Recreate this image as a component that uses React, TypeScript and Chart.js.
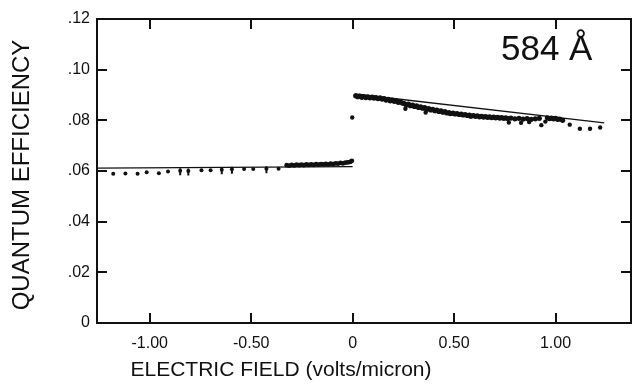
import React, { useEffect, useRef, useState } from 'react';
import { Chart, registerables } from 'chart.js';
Chart.register(...registerables);

// ---- axis ticks ----
const xTicks = [-1, -0.5, 0, 0.5, 1];
const xTickLabels = ['-1.00', '-0.50', '0', '0.50', '1.00'];
const yTicks = [0, 0.02, 0.04, 0.06, 0.08, 0.1, 0.12];
const yTickLabels = ['0', '.02', '.04', '.06', '.08', '.10', '.12'];

// ---- negative field, sparse points ----
const leftSparseX = [-1.18, -1.12, -1.06, -1.015, -0.955, -0.91, -0.85, -0.81, -0.745, -0.70, -0.645, -0.595, -0.535, -0.49, -0.425, -0.365];
const leftSparseY = [0.0589, 0.0590, 0.0589, 0.0595, 0.0591, 0.0598, 0.0601, 0.0600, 0.0603, 0.0603, 0.0605, 0.0607, 0.0608, 0.0608, 0.0609, 0.0609];

// ---- negative field, dense points ----
const leftDenseX = [-0.325, -0.313, -0.300, -0.288, -0.276, -0.264, -0.252, -0.240, -0.228, -0.216, -0.204, -0.192, -0.180, -0.168, -0.156, -0.144, -0.132, -0.120, -0.108, -0.096, -0.084, -0.072, -0.060, -0.048, -0.036, -0.024, -0.012, -0.004];
const leftDenseY = [0.0623, 0.0621, 0.0624, 0.0622, 0.0625, 0.0623, 0.0625, 0.0623, 0.0626, 0.0624, 0.0626, 0.0624, 0.0627, 0.0625, 0.0627, 0.0626, 0.0628, 0.0626, 0.0629, 0.0627, 0.0630, 0.0629, 0.0632, 0.0630, 0.0633, 0.0634, 0.0636, 0.0640];

// ---- error-bar markers on some negative-field points ----
const errX = [-0.85, -0.81, -0.645, -0.595, -0.425];
const errY = [0.0597, 0.0596, 0.0601, 0.0603, 0.0605];

// ---- positive field, dense points ----
const rightX = [0.015, 0.025, 0.035, 0.045, 0.055, 0.065, 0.075, 0.085, 0.095, 0.105, 0.115, 0.125, 0.135, 0.145, 0.155, 0.165, 0.175, 0.185, 0.195, 0.205, 0.215, 0.225, 0.235, 0.245, 0.255, 0.265, 0.275, 0.285, 0.295, 0.305, 0.315, 0.325, 0.335, 0.345, 0.355, 0.365, 0.375, 0.385, 0.395, 0.405, 0.415, 0.425, 0.435, 0.445, 0.455, 0.465, 0.475, 0.485, 0.495, 0.505, 0.515, 0.525, 0.535, 0.545, 0.555, 0.565, 0.575, 0.585, 0.595, 0.605, 0.615, 0.625, 0.635, 0.645, 0.655, 0.665, 0.675, 0.685, 0.695, 0.705, 0.715, 0.725, 0.735, 0.745, 0.755, 0.765, 0.78, 0.80, 0.82, 0.84, 0.86, 0.88, 0.90, 0.92, 0.96, 0.97, 0.98, 0.99, 1.00, 1.01, 1.02, 1.035];
const rightY = [0.0897, 0.0893, 0.0896, 0.0891, 0.0894, 0.0890, 0.0893, 0.0889, 0.0892, 0.0888, 0.0890, 0.0886, 0.0889, 0.0884, 0.0886, 0.0880, 0.0883, 0.0877, 0.0880, 0.0875, 0.0877, 0.0871, 0.0873, 0.0868, 0.0866, 0.0861, 0.0864, 0.0858, 0.0860, 0.0855, 0.0857, 0.0851, 0.0853, 0.0848, 0.0850, 0.0844, 0.0846, 0.0841, 0.0843, 0.0838, 0.0840, 0.0835, 0.0837, 0.0832, 0.0834, 0.0829, 0.0831, 0.0827, 0.0829, 0.0825, 0.0827, 0.0823, 0.0825, 0.0821, 0.0823, 0.0819, 0.0821, 0.0817, 0.0819, 0.0816, 0.0818, 0.0814, 0.0816, 0.0813, 0.0815, 0.0812, 0.0814, 0.0811, 0.0813, 0.0810, 0.0812, 0.0809, 0.0811, 0.0808, 0.0810, 0.0807, 0.0809, 0.0806, 0.0808, 0.0805, 0.0807, 0.0804, 0.0806, 0.0808, 0.0810, 0.0807, 0.0809, 0.0806, 0.0808, 0.0804, 0.0805, 0.0800];

// ---- positive field, scattered low points ----
const rightLowX = [-0.002, 0.26, 0.36, 0.48, 0.58, 0.77, 0.83, 0.87, 0.93, 0.95, 1.07, 1.12, 1.17, 1.22];
const rightLowY = [0.0811, 0.0846, 0.0831, 0.0825, 0.0815, 0.0791, 0.0790, 0.0793, 0.0781, 0.0795, 0.0783, 0.0767, 0.0767, 0.0772];

// ---- fitted lines ----
const fitLeftX = [-1.26, 0];
const fitLeftY = [0.0611, 0.0617];
const fitRightX = [0.01, 1.24];
const fitRightY = [0.0904, 0.0790];

// ---- axis ranges ----
const X_MIN = -1.26;
const X_MAX = 1.372;
const Y_MIN = 0;
const Y_MAX = 0.12;

const INK = '#111111';
const FONT = '"Liberation Sans", Arial, sans-serif';

const pts = (xs: number[], ys: number[]) => xs.map((x, i) => ({ x, y: ys[i] }));

type Geo = { L: number; R: number; T: number; B: number; xp: number[]; yp: number[] };

export default function App() {
  const ref = useRef<HTMLCanvasElement | null>(null);
  const [geo, setGeo] = useState<Geo | null>(null);

  useEffect(() => {
    document.body.style.margin = '0';
    const canvas = ref.current;
    if (!canvas) return;

    const labels = {
      id: 'labels',
      afterDraw(chart: any) {
        const ctx = chart.ctx;
        ctx.save();
        ctx.fillStyle = INK;
        ctx.textAlign = 'center';
        ctx.textBaseline = 'middle';
        ctx.font = `24px ${FONT}`;
        ctx.save();
        ctx.translate(22, 175);
        ctx.rotate(-Math.PI / 2);
        ctx.fillText('QUANTUM EFFICIENCY', 0, 0);
        ctx.restore();

        ctx.font = `21px ${FONT}`;
        ctx.fillText('ELECTRIC FIELD (volts/micron)', 281, 370);

        ctx.textAlign = 'left';
        ctx.textBaseline = 'alphabetic';
        ctx.font = `35px ${FONT}`;
        ctx.fillText('584 Å', 501, 60);
        ctx.restore();
      },
    };

    const dot = {
      type: 'scatter',
      pointRadius: 2,
      pointBorderWidth: 0,
      backgroundColor: INK,
      borderColor: INK,
      showLine: false,
    };
    const line = {
      type: 'scatter',
      pointRadius: 0,
      borderColor: INK,
      backgroundColor: INK,
      borderWidth: 1.3,
      showLine: true,
      fill: false,
    };
    const chart = new Chart(canvas, {
      type: 'scatter',
      data: {
        datasets: [
          { ...line, label: 'fit negative', data: pts(fitLeftX, fitLeftY) },
          { ...line, label: 'fit positive', data: pts(fitRightX, fitRightY) },
          { ...dot, label: 'negative sparse', data: pts(leftSparseX, leftSparseY) },
          { ...dot, label: 'negative dense', data: pts(leftDenseX, leftDenseY), pointRadius: 2.4 },
          {
            type: 'scatter',
            label: 'error bars',
            data: pts(errX, errY),
            pointStyle: 'line',
            rotation: 90,
            pointRadius: 3.5,
            borderWidth: 2,
            borderColor: INK,
            backgroundColor: INK,
          },
          { ...dot, label: 'positive dense', data: pts(rightX, rightY), pointRadius: 2.6 },
          { ...dot, label: 'positive low', data: pts(rightLowX, rightLowY), pointRadius: 2.2 },
        ],
      } as any,
      options: {
        animation: false,
        responsive: false,
        devicePixelRatio: 1,
        layout: { padding: { top: 19, right: 3, left: 0, bottom: 0 } },
        plugins: { legend: { display: false }, tooltip: { enabled: false }, title: { display: false } },
        scales: {
          x: {
            type: 'linear',
            min: X_MIN,
            max: X_MAX,
            grid: { display: false, drawTicks: false },
            border: { display: false },
            afterBuildTicks: (s: any) => { s.ticks = xTicks.map((v) => ({ value: v })); },
            afterFit: (s: any) => { s.height = 65; },
            ticks: {
              padding: 11,
              color: INK,
              font: { family: FONT, size: 16 },
              maxRotation: 0,
              autoSkip: false,
              callback: (v: any) => xTickLabels[xTicks.indexOf(Number(v))] ?? '',
            },
          },
          y: {
            type: 'linear',
            min: Y_MIN,
            max: Y_MAX,
            grid: { display: false, drawTicks: false },
            border: { display: false },
            afterBuildTicks: (s: any) => { s.ticks = yTicks.map((v) => ({ value: v })); },
            afterFit: (s: any) => { s.width = 97; },
            ticks: {
              padding: 7,
              color: INK,
              font: { family: FONT, size: 16 },
              autoSkip: false,
              callback: (v: any) => yTickLabels[yTicks.indexOf(Number(v))] ?? '',
            },
          },
        },
      } as any,
      plugins: [labels],
    });

    // frame + inward ticks positioned from the chart's own scales
    const sx: any = chart.scales.x;
    const sy: any = chart.scales.y;
    setGeo({
      L: Math.round(sx.left),
      R: Math.round(sx.right),
      T: Math.round(sy.top),
      B: Math.round(sy.bottom),
      xp: xTicks.map((v) => Math.round(sx.getPixelForValue(v))),
      yp: yTicks.filter((v) => v !== Y_MIN && v !== Y_MAX).map((v) => Math.round(sy.getPixelForValue(v))),
    });

    return () => chart.destroy();
  }, []);

  const TL = 10;
  const bar = (left: number, top: number, width: number, height: number, key: string) => (
    <div key={key} style={{ position: 'absolute', left, top, width, height, background: INK }} />
  );

  return (
    <div style={{ position: 'absolute', left: 0, top: 0, width: 637, height: 388, background: '#fff' }}>
      <canvas ref={ref} width={637} height={388} style={{ display: 'block', width: 637, height: 388 }} />
      {geo && (
        <div style={{ position: 'absolute', left: 0, top: 0, width: 637, height: 388, pointerEvents: 'none' }}>
          {bar(geo.L - 1, geo.T - 1, geo.R - geo.L + 2, 2, 'top')}
          {bar(geo.L - 1, geo.B - 1, geo.R - geo.L + 2, 2, 'bottom')}
          {bar(geo.L - 1, geo.T - 1, 2, geo.B - geo.T + 2, 'left')}
          {bar(geo.R - 1, geo.T - 1, 2, geo.B - geo.T + 2, 'right')}
          {geo.xp.map((p, i) => bar(p - 1, geo.B - TL, 2, TL, 'xb' + i))}
          {geo.xp.map((p, i) => bar(p - 1, geo.T, 2, TL, 'xt' + i))}
          {geo.yp.map((p, i) => bar(geo.L, p - 1, TL, 2, 'yl' + i))}
          {geo.yp.map((p, i) => bar(geo.R - TL, p - 1, TL, 2, 'yr' + i))}
        </div>
      )}
    </div>
  );
}
